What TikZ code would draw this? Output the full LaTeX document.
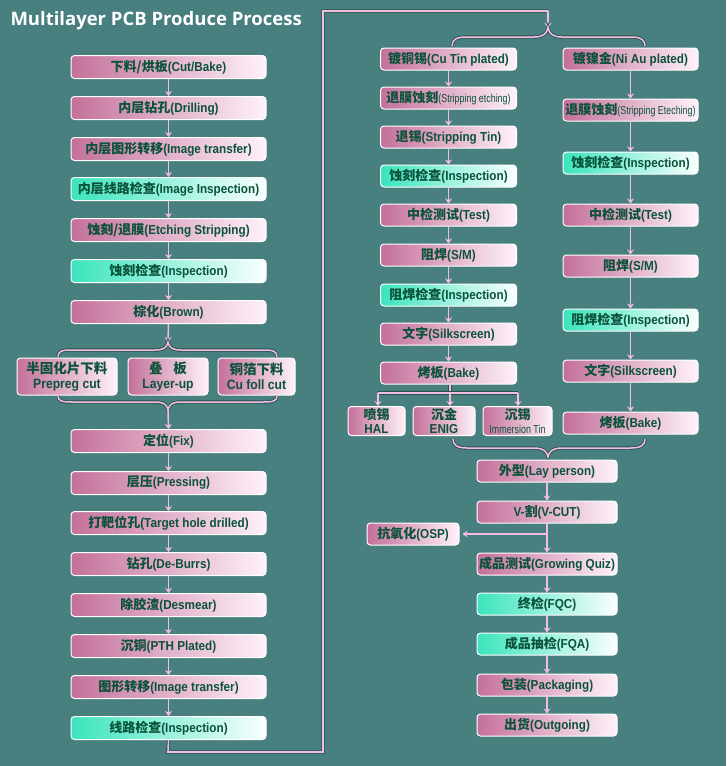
\documentclass[tikz,border=0pt]{standalone}
\usepackage{fontspec}
\usepackage{graphicx}
\setmainfont{Liberation Sans}[FakeStretch=0.9]
\newfontfamily\zhfont{Noto Sans CJK SC}
\newfontfamily\titlefont{Open Sans}
\usetikzlibrary{arrows.meta}
\newcommand\zh[1]{{\zhfont #1}}
\newcommand\smalltxt[1]{{\mdseries\fontsize{11.5}{12}\selectfont\scalebox{0.86}[1]{#1}}}
\definecolor{bg}{RGB}{72,127,127}
\definecolor{txt}{RGB}{10,82,58}
\definecolor{pinkL}{RGB}{196,112,154}
\definecolor{pinkR}{RGB}{255,242,250}
\definecolor{cyanL}{RGB}{58,228,188}
\definecolor{cyanR}{RGB}{250,255,255}
\definecolor{arr}{RGB}{246,190,222}
\definecolor{outl}{RGB}{40,80,82}
\tikzset{
  box/.style={rounded corners=3.5pt, draw=white, line width=1pt, text=txt,
    font=\bfseries\fontsize{13}{14}\selectfont, inner sep=0pt,
    minimum height=22pt, align=center},
  pbox/.style={box, left color=pinkL, right color=pinkR},
  cbox/.style={box, left color=cyanL, right color=cyanR},
  conn/.style={draw=arr, line width=1.5pt, -{Stealth[length=5pt,width=7pt]}},
  wire/.style={draw=arr, line width=1.6pt, preaction={draw=outl, line width=3.4pt}},
  brc/.style={draw=arr, line width=1.5pt, preaction={draw=outl, line width=3.2pt}},
  two/.style={font=\bfseries\fontsize{13.5}{15}\selectfont},
}
\begin{document}
\begin{tikzpicture}[x=1pt,y=-1pt]
\fill[bg] (0,0) rectangle (726,766);
\useasboundingbox (0,0) rectangle (726,766);
\node[anchor=west, text=white, font=\titlefont\bfseries\fontsize{18.5}{20}\selectfont] (title) at (7,21) {Multilayer PCB Produce Process};

% left column
\tikzset{lw/.style={minimum width=195pt, minimum height=23pt}}
\node[pbox,lw] (L1) at (168.5,67) {\zh{下料/烘板}(Cut/Bake)};
\node[pbox,lw] (L2) at (168.5,108) {\zh{内层钻孔}(Drilling)};
\node[pbox,lw] (L3) at (168.5,149) {\zh{内层图形转移}(Image transfer)};
\node[cbox,lw] (L4) at (168.5,189) {\zh{内层线路检查}(Image Inspection)};
\node[pbox,lw] (L5) at (168.5,230) {\zh{蚀刻/退膜}(Etching Stripping)};
\node[cbox,lw] (L6) at (168.5,271) {\zh{蚀刻检查}(Inspection)};
\node[pbox,lw] (L7) at (168.5,312) {\zh{棕化}(Brown)};
\node[pbox,two, minimum width=100pt, minimum height=37pt] (P1) at (67,376.5) {\zh{半固化片下料}\\Prepreg cut};
\node[pbox,two, minimum width=80pt, minimum height=37pt] (P2) at (168,376.5) {\zh{叠\hspace{0.8em}板}\\Layer-up};
\node[pbox,two, minimum width=77pt, minimum height=37pt] (P3) at (256.5,376.5) {\zh{铜箔下料}\\Cu foll cut};
\node[pbox,lw] (L8) at (168.5,441) {\zh{定位}(Fix)};
\node[pbox,lw] (L9) at (168.5,483) {\zh{层压}(Pressing)};
\node[pbox,lw] (L10) at (168.5,523) {\zh{打靶位孔}(Target hole drilled)};
\node[pbox,lw] (L11) at (168.5,564) {\zh{钻孔}(De-Burrs)};
\node[pbox,lw] (L12) at (168.5,605) {\zh{除胶渣}(Desmear)};
\node[pbox,lw] (L13) at (168.5,646) {\zh{沉铜}(PTH Plated)};
\node[pbox,lw] (L14) at (168.5,687) {\zh{图形转移}(Image transfer)};
\node[cbox,lw] (L15) at (168.5,728) {\zh{线路检查}(Inspection)};

\foreach \a/\b in {L1/L2,L2/L3,L3/L4,L4/L5,L5/L6,L6/L7,L8/L9,L9/L10,L10/L11,L11/L12,L12/L13,L13/L14,L14/L15}
  \draw[conn] (\a.south) -- (\b.north);

\coordinate (lb1) at (168,342);
\coordinate (lb2) at (168,410);
\draw[conn] (L7.south) -- (lb1);
\draw[brc] (58,357) .. controls (58,351) and (62,350) .. (72,350) -- (155,350) .. controls (163,350) and (167,348) .. (lb1) .. controls (169,348) and (173,350) .. (181,350) -- (263,350) .. controls (273,350) and (277,351) .. (277,357);
\draw[brc] (58,396) .. controls (58,401) and (62,402) .. (72,402) -- (155,402) .. controls (163,402) and (167,404) .. (lb2) .. controls (169,404) and (173,402) .. (181,402) -- (263,402) .. controls (273,402) and (277,401) .. (277,396);
\draw[conn] (lb2) -- (L8.north);

% long connector
\coordinate (w1) at (168,752);
\coordinate (w2) at (323,752);
\coordinate (w3) at (323,11);
\coordinate (w4) at (548,11);
\coordinate (rb1) at (548,27);
\draw[wire] (L15.south) -- (w1) -- (w2) -- (w3) -- (w4);
\draw[conn] (w4) -- ([yshift=-1pt]rb1);
\draw[brc] (452,46) .. controls (452,40) and (456,37) .. (466,37) -- (534,37) .. controls (543,37) and (547,34) .. (rb1) .. controls (549,34) and (553,37) .. (562,37) -- (631,37) .. controls (641,37) and (645,40) .. (645,46);

% right column A
\tikzset{aw/.style={minimum width=136pt}}
\node[pbox,aw] (A1) at (448.5,59) {\zh{镀铜锡}(Cu Tin plated)};
\node[pbox,aw] (A2) at (448.5,98) {\zh{退膜蚀刻}\smalltxt{(Stripping etching)}};
\node[pbox,aw] (A3) at (448.5,137) {\zh{退锡}(Stripping Tin)};
\node[cbox,aw] (A4) at (448.5,176) {\zh{蚀刻检查}(Inspection)};
\node[pbox,aw] (A5) at (448.5,215) {\zh{中检测试}(Test)};
\node[pbox,aw] (A6) at (448.5,255) {\zh{阻焊}(S/M)};
\node[cbox,aw] (A7) at (448.5,295) {\zh{阻焊检查}(Inspection)};
\node[pbox,aw] (A8) at (448.5,334) {\zh{文字}(Silkscreen)};
\node[pbox,aw] (A9) at (448.5,373) {\zh{烤板}(Bake)};
\foreach \a/\b in {A1/A2,A2/A3,A3/A4,A4/A5,A5/A6,A6/A7,A7/A8,A8/A9}
  \draw[conn] (\a.south) -- (\b.north);

\node[pbox,two, minimum width=57pt, minimum height=29pt, font=\bfseries\fontsize{13}{13.5}\selectfont] (H1) at (376.5,421) {\zh{喷锡}\\HAL};
\node[pbox,two, minimum width=62pt, minimum height=29pt, font=\bfseries\fontsize{13}{13.5}\selectfont] (H2) at (444,421) {\zh{沉金}\\ENIG};
\node[pbox,two, minimum width=69pt, minimum height=29pt, font=\bfseries\fontsize{13}{13.5}\selectfont] (H3) at (517.5,421) {\zh{沉锡}\\\smalltxt{Immersion Tin}};
\coordinate (br) at (450,393);
\draw[wire] (A9.south -| br) -- (br);
\draw[wire] (378,393) -- (518,393);
\draw[conn] (378,393) -- (378,406);
\draw[conn] (br) -- (450,406);
\draw[conn] (518,393) -- (518,406);

% right column B
\tikzset{bw/.style={minimum width=135pt}}
\node[pbox,bw] (B1) at (630.5,59) {\zh{镀镍金}(Ni Au plated)};
\node[pbox,bw] (B2) at (630.5,110) {\zh{退膜蚀刻}\smalltxt{(Stripping Eteching)}};
\node[cbox,bw] (B3) at (630.5,163) {\zh{蚀刻检查}(Inspection)};
\node[pbox,bw] (B4) at (630.5,215) {\zh{中检测试}(Test)};
\node[pbox,bw] (B5) at (630.5,266) {\zh{阻焊}(S/M)};
\node[cbox,bw] (B6) at (630.5,320) {\zh{阻焊检查}(Inspection)};
\node[pbox,bw] (B7) at (630.5,371) {\zh{文字}(Silkscreen)};
\node[pbox,bw] (B8) at (630.5,423) {\zh{烤板}(Bake)};
\foreach \a/\b in {B1/B2,B2/B3,B3/B4,B4/B5,B5/B6,B6/B7,B7/B8}
  \draw[conn] (\a.south) -- (\b.north);

% merge brace
\coordinate (rb2) at (548,457);
\draw[brc] (453,439) .. controls (453,445) and (457,448) .. (467,448) -- (534,448) .. controls (543,448) and (547,451) .. (rb2) .. controls (549,451) and (553,448) .. (562,448) -- (631,448) .. controls (641,448) and (645,445) .. (645,439);

% bottom column
\tikzset{cw/.style={minimum width=140pt}}
\node[pbox,cw] (C1) at (547,471) {\zh{外型}(Lay person)};
\node[pbox,cw] (C2) at (547,512) {V-\zh{割}(V-CUT)};
\node[pbox, minimum width=92pt] (OSP) at (413,534) {\zh{抗氧化}(OSP)};
\node[pbox,cw] (C3) at (547,564) {\zh{成品测试}(Growing Quiz)};
\node[cbox,cw] (C4) at (547,604) {\zh{终检}(FQC)};
\node[cbox,cw] (C5) at (547,644) {\zh{成品抽检}(FQA)};
\node[pbox,cw] (C6) at (547,685) {\zh{包装}(Packaging)};
\node[pbox,cw] (C7) at (547,725) {\zh{出货}(Outgoing)};
\foreach \a/\b in {C1/C2,C2/C3,C3/C4,C4/C5,C5/C6,C6/C7}
  \draw[conn] (\a.south) -- (\b.north);
\draw[conn] ([xshift=-1pt]C2.south |- OSP.east) -- ([xshift=3pt]OSP.east);
\end{tikzpicture}
\end{document}
